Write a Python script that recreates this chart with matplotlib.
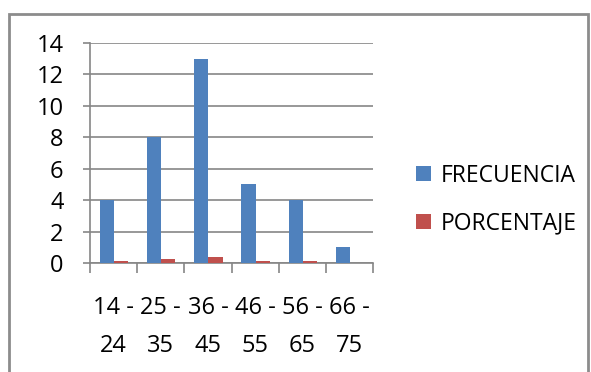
import numpy as np
import matplotlib.pyplot as plt
from matplotlib.patches import Rectangle

# age groups and counts
categories = ["14 -\n24", "25 -\n35", "36 -\n45", "46 -\n55", "56 -\n65", "66 -\n75"]
frecuencia = [4, 8, 13, 5, 4, 1]
porcentaje = [0.114, 0.229, 0.371, 0.143, 0.114, 0.029]

blue = "#4F81BD"
red = "#C0504D"
grey = "#868686"

plt.rcParams['font.family'] = ['Open Sans', 'DejaVu Sans']

fig = plt.figure(figsize=(5.91, 3.72), dpi=100)
fig.patches.append(Rectangle((9 / 591, -0.1), 579 / 591, 1 - 14 / 372 + 0.1,
                             transform=fig.transFigure, fill=False,
                             edgecolor="#8c8c8c", linewidth=2))

ax = fig.add_axes([90 / 591, 1 - 263 / 372, 283 / 591, 220 / 372])

x = np.arange(len(categories))
w = 0.3
ax.bar(x - w / 2 + 0.01, frecuencia, w, color=blue, label="FRECUENCIA", zorder=3)
ax.bar(x + w / 2 + 0.01, porcentaje, w, color=red, label="PORCENTAJE", zorder=3)

ax.set_xlim(-0.5, len(categories) - 0.5)
ax.set_ylim(0, 14)
ax.set_yticks(range(0, 15, 2))
ax.yaxis.grid(True, color=grey, linewidth=1.2, zorder=0)

# boundary ticks on the major locator, labels centred on the minor one
ax.set_xticks(np.append(x - 0.5, len(categories) - 0.5))
ax.set_xticklabels([])
ax.set_xticks(x, minor=True)
ax.set_xticklabels(categories, minor=True, fontsize=17, linespacing=1.75)
ax.tick_params(axis="x", which="minor", length=0, pad=24)
ax.tick_params(axis="x", which="major", length=7, width=1.2, color=grey)
ax.tick_params(axis="y", length=5, width=1.2, color=grey, labelsize=17, pad=14)

for s in ["top", "right"]:
    ax.spines[s].set_visible(False)
for s in ["left", "bottom"]:
    ax.spines[s].set_color(grey)
    ax.spines[s].set_linewidth(1.2)

fig.legend(loc="upper left", bbox_to_anchor=(395 / 591, 1 - 143 / 372),
           frameon=False, fontsize=16.5, handlelength=0.65, handleheight=0.65,
           handletextpad=0.45, labelspacing=1.05)

fig.savefig("out.png", dpi=100)
